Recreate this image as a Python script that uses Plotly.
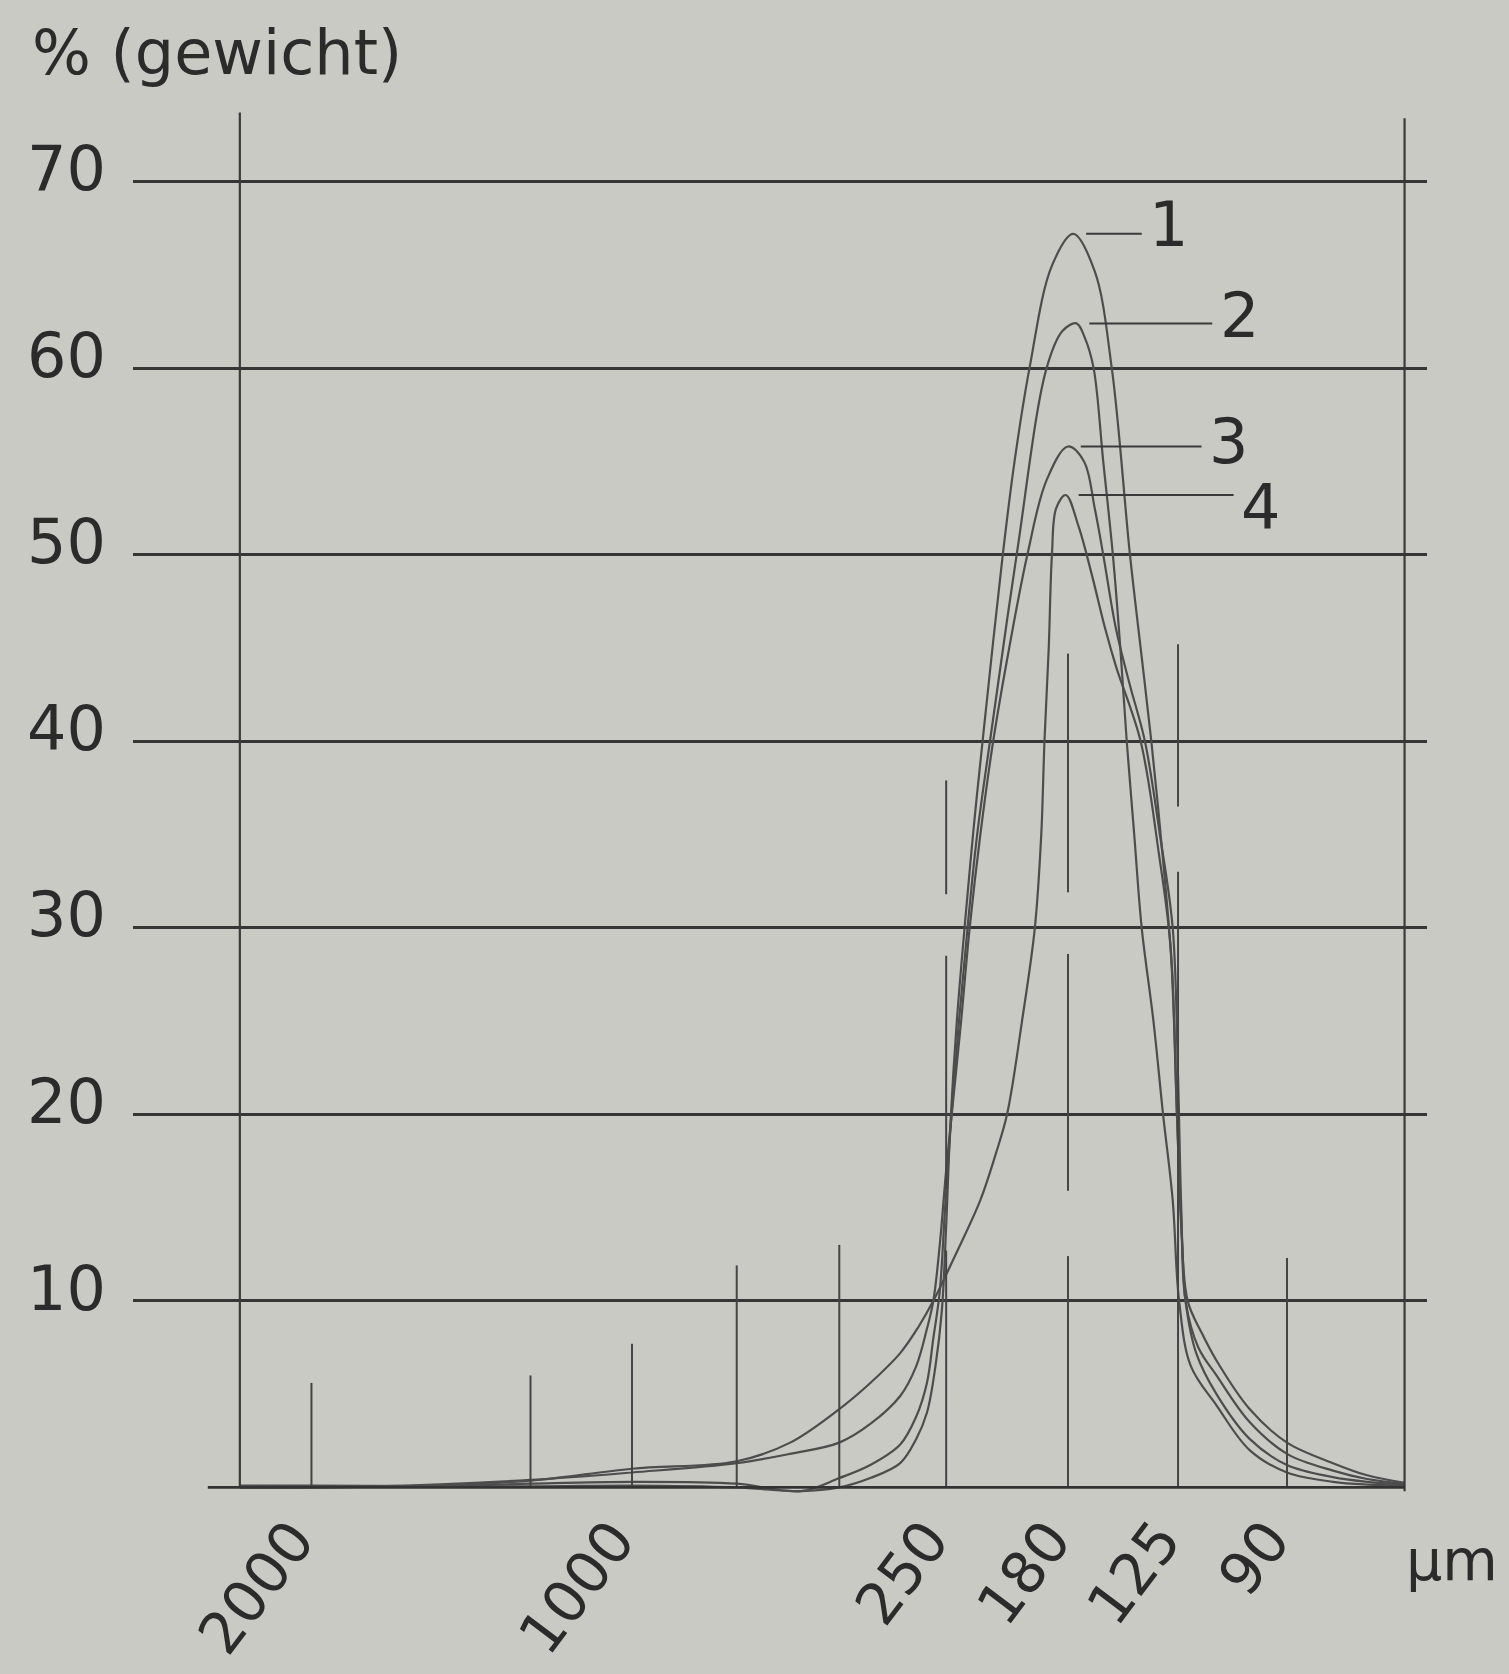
import plotly.graph_objects as go

# ---------------- data ----------------
# horizontal positions are in drawing units along the x scale (left frame = 0, right frame = 10.9)
sieve_pos = [0.67, 2.72, 3.67, 4.65, 5.61, 6.61, 7.75, 8.78, 9.80]
sieve_text = ["2000", "", "1000", "", "", "250", "180", "125", "90"]
frame_right = 10.90

y_ticks = [10, 20, 30, 40, 50, 60, 70]
y_tick_text = ["10", "20", "30", "40", "50", "60", "70"]

# vertical sieve marker segments (bottom, top) in % units, one list per sieve line
sieve_segments = [
    [(0, 5.6)],
    [(0, 6.0)],
    [(0, 7.7)],
    [(0, 11.9)],
    [(0, 13.0)],
    [(0, 12.7), (16.0, 28.5), (31.8, 37.9)],
    [(0, 12.4), (15.9, 28.6), (31.9, 44.7)],
    [(0, 33.0), (36.5, 45.2)],
    [(0, 12.3)],
]

curve_names = ["1", "2", "3", "4"]

c1_x = [0.00, 0.67, 2.72, 3.67, 4.65, 5.25, 5.61, 5.90, 6.18, 6.33, 6.43, 6.51, 6.57, 6.61, 6.65,
        6.71, 6.79, 6.87, 6.96, 7.14, 7.25, 7.39, 7.60, 7.80, 8.00, 8.16, 8.33, 8.43, 8.53, 8.65,
        8.72, 8.77, 8.82, 8.85, 8.95, 9.14, 9.45, 9.80, 10.23, 10.55, 10.90]
c1_y = [0.1, 0.1, 0.05, 0.1, 0.0, -0.2, 0.0, 0.5, 1.3, 2.6, 4.0, 6.5, 9.5, 14, 19.5,
        25, 30.5, 35.5, 40.5, 50, 55, 60, 65.5, 67.2, 65.2, 60, 50, 45, 40, 33,
        28, 20, 13, 10, 7.2, 5.0, 2.6, 1.2, 0.55, 0.3, 0.15]

c2_x = [0.00, 1.75, 2.72, 3.67, 4.65, 5.25, 5.61, 5.90, 6.18, 6.33, 6.43, 6.49, 6.55, 6.60, 6.66,
        6.73, 6.81, 6.90, 7.02, 7.27, 7.55, 7.70, 7.83, 7.91, 7.99, 8.08, 8.17, 8.24, 8.30, 8.37,
        8.44, 8.55, 8.64, 8.73, 8.79, 8.90, 9.14, 9.45, 9.80, 10.23, 10.55, 10.90]
c2_y = [0.05, 0.05, 0.2, 0.3, 0.2, -0.2, 0.5, 1.2, 2.3, 3.8, 5.6, 8.0, 10.5, 15, 20,
        25, 30, 35, 40, 50, 60, 62, 62.4, 61.6, 60, 55, 50, 45, 40, 35,
        30, 25, 20, 15.4, 10, 6.5, 4.4, 2.0, 0.8, 0.3, 0.15, 0.1]

c3_x = [0.00, 1.25, 2.72, 3.67, 4.65, 5.15, 5.61, 5.90, 6.18, 6.33, 6.43, 6.49, 6.55, 6.61, 6.68,
        6.75, 6.83, 6.93, 7.05, 7.20, 7.37, 7.55, 7.75, 7.90, 8.00, 8.08, 8.20, 8.33, 8.47, 8.61,
        8.73, 8.78, 8.81, 8.85, 8.97, 9.14, 9.45, 9.80, 10.23, 10.55, 10.90]
c3_y = [0.0, 0.05, 0.4, 0.8, 1.3, 1.8, 2.4, 3.4, 4.9, 6.5, 8.5, 10, 13, 17, 21,
        25, 30, 35, 40, 45, 50, 54, 55.8, 55, 52.5, 50, 46, 43, 40, 35,
        30, 22, 15, 10, 7.5, 6.0, 3.5, 1.8, 0.9, 0.45, 0.2]

c4_x = [0.00, 1.75, 2.72, 3.67, 4.65, 5.15, 5.61, 5.90, 6.18, 6.35, 6.49, 6.70, 6.93, 7.07, 7.18,
        7.32, 7.44, 7.50, 7.53, 7.57, 7.60, 7.64, 7.73, 7.85, 7.97, 8.10, 8.20, 8.43, 8.60, 8.71,
        8.77, 8.81, 8.87, 9.00, 9.14, 9.45, 9.80, 10.23, 10.55, 10.90]
c4_y = [0.0, 0.1, 0.36, 1.0, 1.4, 2.4, 4.2, 5.6, 7.2, 8.6, 10, 12.5, 15.4, 17.8, 20,
        25, 30, 35, 40, 45, 50, 52.5, 53.2, 51.5, 49, 46, 44, 40, 34, 29,
        20, 14, 10, 8.3, 6.8, 4.2, 2.4, 1.3, 0.65, 0.25]

# where each label leader line ends, and the label's vertical nudge (px)
leader_end = [8.44, 9.10, 9.00, 9.30]
label_nudge = [9, 8, 5, -12]

# ---------------- styling ----------------
BG = "#c9cac4"
INK = "#2b2b2b"
CURVE = "#4d4d4d"
FONT = "DejaVu Sans"

curves = [(c1_x, c1_y), (c2_x, c2_y), (c3_x, c3_y), (c4_x, c4_y)]

fig = go.Figure()
for name, (xs, ys) in zip(curve_names, curves):
    fig.add_trace(go.Scatter(
        x=xs, y=ys, mode="lines", name=name, showlegend=False, cliponaxis=False,
        line=dict(color=CURVE, width=2.2, shape="spline", smoothing=1.0),
        hoverinfo="skip"))

shapes = []
line_style = dict(color="#3a3a3a", width=2.2)
# sieve marker segments
for pos, segs in zip(sieve_pos, sieve_segments):
    for (b, t) in segs:
        shapes.append(dict(type="line", xref="x", yref="y", x0=pos, x1=pos, y0=b, y1=t,
                           line=dict(color="#444444", width=2)))
# frame: left, right verticals and base line
shapes.append(dict(type="line", xref="x", yref="y", x0=0, x1=0, y0=0, y1=73.7, line=line_style))
shapes.append(dict(type="line", xref="x", yref="y", x0=frame_right, x1=frame_right, y0=-0.2, y1=73.4,
                   line=line_style))
shapes.append(dict(type="line", xref="x", yref="y", x0=-0.30, x1=frame_right, y0=0, y1=0,
                   line=dict(color="#333333", width=2.6)))

annotations = []
for name, (xs, ys), xe, dy in zip(curve_names, curves, leader_end, label_nudge):
    peak = max(ys)
    px = xs[ys.index(peak)]
    shapes.append(dict(type="line", xref="x", yref="y", x0=px + 0.12, x1=xe, y0=peak, y1=peak,
                       line=dict(color="#3a3a3a", width=2)))
    annotations.append(dict(x=xe + 0.05, y=peak, xref="x", yref="y", text=name, showarrow=False,
                            xanchor="left", yanchor="middle", yshift=dy,
                            font=dict(family=FONT, size=62, color=INK)))

annotations.append(dict(x=-0.0796, y=1.039, xref="paper", yref="paper", text="% (gewicht)",
                        showarrow=False, xanchor="left", yanchor="middle",
                        font=dict(family=FONT, size=62, color=INK)))
annotations.append(dict(x=0.982, y=-0.048, xref="paper", yref="paper", text="µm",
                        showarrow=False, xanchor="left", yanchor="middle",
                        font=dict(family=FONT, size=57, color=INK)))

fig.update_layout(
    width=1509, height=1674, autosize=False,
    margin=dict(l=133, r=82, t=107, b=181),
    paper_bgcolor=BG, plot_bgcolor=BG,
    shapes=shapes, annotations=annotations,
    xaxis=dict(range=[-1.0, 11.11], showgrid=False, zeroline=False, showline=False,
               automargin=False,
               tickmode="array", tickvals=sieve_pos, ticktext=sieve_text, tickangle=-53,
               ticks="", ticklabelshift=-18, ticklabelstandoff=0,
               tickfont=dict(family=FONT, size=58, color=INK)),
    yaxis=dict(range=[-0.3, 74], showgrid=True, gridcolor="#363636", gridwidth=2.5,
               automargin=False,
               zeroline=False, showline=False, tickmode="array", tickvals=y_ticks,
               ticktext=y_tick_text, ticks="", ticklabelstandoff=26, ticklabelshift=-13,
               tickfont=dict(family=FONT, size=62, color=INK)),
)

fig.write_html("out.html")
